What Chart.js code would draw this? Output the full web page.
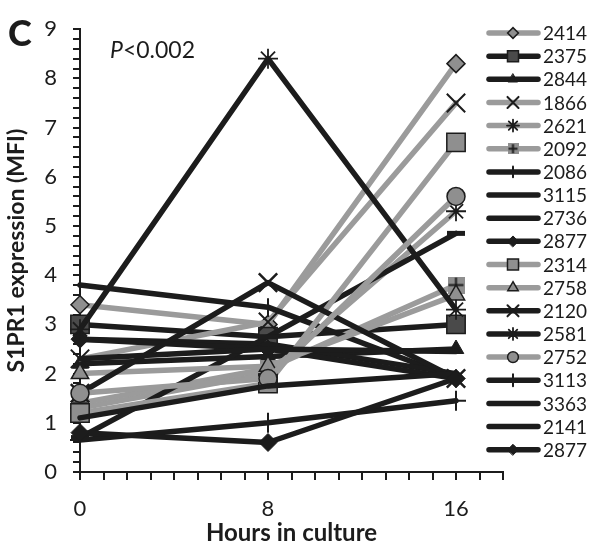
<!DOCTYPE html>
<html>
<head>
<meta charset="utf-8">
<script src="https://cdn.jsdelivr.net/npm/chart.js@4.4.0/dist/chart.umd.min.js"></script>
<style>
    body { margin: 0; background: #fff; }
    #wrap { position: relative; width: 589px; height: 551px; }
</style>
</head>
<body>
<div id="wrap"><canvas id="chart"></canvas></div>
<script>
// hours in culture and the tick labels shown on each axis
const hours = [0, 8, 16];
const xTickLabels = [0, 8, 16];
const yTickLabels = [0, 1, 2, 3, 4, 5, 6, 7, 8, 9];

const sampleIds = ['2414', '2375', '2844', '1866', '2621', '2092', '2086', '3115', '2736', '2877',
    '2314', '2758', '2120', '2581', '2752', '3113', '3363', '2141', '2877'];

// S1PR1 MFI per sample at 0, 8 and 16 h
const s2414 = [3.4, 3.0, 8.3];
const s2375 = [3.0, 2.75, 3.0];
const s2844 = [2.2, 2.35, 2.5];
const s1866 = [2.3, 3.05, 7.5];
const s2621 = [1.3, 2.0, 5.3];
const s2092 = [1.4, 2.1, 3.8];
const s2086 = [3.8, 3.35, 1.9];
const s3115 = [2.7, 2.6, 2.0];
const s2736 = [0.7, 2.75, 4.85];
const s2877a = [2.7, 2.5, 1.9];
const s2314 = [1.2, 1.8, 6.7];
const s2758 = [2.0, 2.15, 3.6];
const s2120 = [1.6, 3.85, 1.9];
const s2581 = [2.9, 8.4, 3.3];
const s2752 = [1.6, 1.9, 5.6];
const s3113 = [0.65, 1.0, 1.45];
const s3363 = [1.1, 1.75, 2.0];
const s2141 = [2.3, 2.5, 2.45];
const s2877b = [0.8, 0.6, 1.9];

const seriesValues = [s2414, s2375, s2844, s1866, s2621, s2092, s2086, s3115, s2736, s2877a,
    s2314, s2758, s2120, s2581, s2752, s3113, s3363, s2141, s2877b];

const BLACK = '#1c1c1c';
const GREY = '#9b9b9b';
const MARK_GREY = '#8f8f8f';
const DARK = '#4a4a4a';

// grey square with a black plus on it
const plusBox = (size) => {
    const c = document.createElement('canvas');
    c.width = size;
    c.height = size;
    const g = c.getContext('2d');
    g.fillStyle = MARK_GREY;
    g.fillRect(0, 0, size, size);
    g.strokeStyle = BLACK;
    g.lineWidth = 2;
    g.beginPath();
    g.moveTo(size / 2, 1); g.lineTo(size / 2, size - 1);
    g.moveTo(1, size / 2); g.lineTo(size - 1, size / 2);
    g.stroke();
    return c;
};

const seriesStyles = [
    { line: GREY, marker: 'rectRot', radius: 9, fill: MARK_GREY, edge: BLACK, edgeWidth: 1.5 },
    { line: BLACK, marker: 'rect', radius: 13, fill: DARK, edge: BLACK, edgeWidth: 1.5 },
    { line: BLACK, marker: 'triangle', radius: 9, fill: BLACK, edge: BLACK, edgeWidth: 1 },
    { line: GREY, marker: 'crossRot', radius: 13, fill: BLACK, edge: BLACK, edgeWidth: 2 },
    { line: GREY, marker: 'star', radius: 10, fill: BLACK, edge: BLACK, edgeWidth: 1.8 },
    { line: GREY, marker: plusBox(17), legendMarker: plusBox(11), radius: 9, fill: MARK_GREY, edge: BLACK, edgeWidth: 1 },
    { line: BLACK, marker: 'line', rotation: 90, radius: 9, fill: BLACK, edge: BLACK, edgeWidth: 2 },
    { line: BLACK, marker: null },
    { line: BLACK, marker: 'line', radius: 9, fill: BLACK, edge: BLACK, edgeWidth: 5 },
    { line: BLACK, marker: 'rectRot', radius: 9, fill: BLACK, edge: BLACK, edgeWidth: 1 },
    { line: GREY, marker: 'rect', radius: 13, fill: MARK_GREY, edge: BLACK, edgeWidth: 1.5 },
    { line: GREY, marker: 'triangle', radius: 10, fill: MARK_GREY, edge: BLACK, edgeWidth: 1.5 },
    { line: BLACK, marker: 'crossRot', radius: 13, fill: BLACK, edge: BLACK, edgeWidth: 2.5 },
    { line: BLACK, marker: 'star', radius: 10, fill: BLACK, edge: BLACK, edgeWidth: 1.8 },
    { line: GREY, marker: 'circle', radius: 9, fill: MARK_GREY, edge: BLACK, edgeWidth: 1.5 },
    { line: BLACK, marker: 'cross', radius: 10, fill: BLACK, edge: BLACK, edgeWidth: 2 },
    { line: BLACK, marker: null },
    { line: BLACK, marker: null },
    { line: BLACK, marker: 'rectRot', radius: 9, fill: BLACK, edge: BLACK, edgeWidth: 1 },
];

const datasets = sampleIds.map((id, i) => {
    const st = seriesStyles[i];
    return {
        label: id,
        data: hours.map((h, j) => ({ x: h, y: seriesValues[i][j] })),
        borderColor: st.line,
        borderWidth: 5.5,
        borderJoinStyle: 'round',
        borderCapStyle: 'round',
        pointStyle: st.marker || 'circle',
        pointRadius: st.marker ? st.radius : 0,
        pointHoverRadius: st.marker ? st.radius : 0,
        pointRotation: st.rotation || 0,
        pointBackgroundColor: st.fill || st.line,
        pointBorderColor: st.edge || st.line,
        pointBorderWidth: st.edgeWidth || 0,
        order: -i,
        clip: false,
    };
});

// legend down the right side, drawn over the plot like the original
const sampleLegend = {
    id: 'sampleLegend',
    afterDraw(chart) {
        const ctx = chart.ctx;
        ctx.save();
        chart.data.datasets.forEach((ds, i) => {
            const st = seriesStyles[i];
            const y = 33 + i * 23.15;
            ctx.strokeStyle = st.line;
            ctx.lineWidth = 5.5;
            ctx.lineCap = 'round';
            ctx.beginPath();
            ctx.moveTo(489, y);
            ctx.lineTo(538, y);
            ctx.stroke();
            if (st.marker && Chart.helpers && Chart.helpers.drawPoint) {
                ctx.fillStyle = st.fill;
                ctx.strokeStyle = st.edge;
                ctx.lineWidth = Math.min(st.edgeWidth, 2);
                Chart.helpers.drawPoint(ctx, {
                    pointStyle: st.legendMarker || st.marker,
                    rotation: st.rotation || 0,
                    radius: st.radius * 0.6,
                    borderWidth: Math.min(st.edgeWidth, st.marker === 'line' && !st.rotation ? 4 : 2),
                }, 513, y);
            }
            ctx.fillStyle = '#1c1c1c';
            ctx.font = '19px Lato';
            ctx.textAlign = 'left';
            ctx.textBaseline = 'middle';
            ctx.fillText(ds.label, 543, y + 1);
        });

        // panel letter and test result
        ctx.fillStyle = '#1c1c1c';
        ctx.textBaseline = 'alphabetic';
        ctx.font = '900 36px Lato';
        ctx.fillText('C', 8, 46);
        ctx.font = 'italic 23px Lato';
        ctx.fillText('P', 110, 58);
        const pw = ctx.measureText('P').width;
        ctx.font = '23px Lato';
        ctx.fillText('<0.002', 110 + pw, 58);
        ctx.restore();
    }
};

Chart.defaults.font.family = 'Lato';
Chart.defaults.color = '#1c1c1c';

new Chart(document.getElementById('chart'), {
    type: 'line',
    data: { datasets },
    plugins: [sampleLegend],
    options: {
        responsive: true,
        maintainAspectRatio: false,
        animation: false,
        layout: { padding: { left: 0, right: 86, top: 22, bottom: 0 } },
        plugins: {
            legend: { display: false },
            tooltip: { enabled: false },
        },
        scales: {
            x: {
                type: 'linear',
                min: 0,
                max: 18,
                afterFit: (scale) => { scale.height = 79; },
                border: { color: BLACK, width: 2 },
                grid: { drawOnChartArea: false, drawTicks: true, tickLength: 8, tickColor: BLACK, lineWidth: 2 },
                ticks: {
                    stepSize: 1,
                    autoSkip: false,
                    maxRotation: 0,
                    padding: 16,
                    font: { size: 22 },
                    callback: (v) => (xTickLabels.includes(v) ? String(v) : ''),
                },
                title: {
                    display: true,
                    text: 'Hours in culture',
                    font: { size: 24, weight: 'bold' },
                    padding: { top: 0, bottom: 3 },
                },
            },
            y: {
                min: 0,
                max: 9,
                afterFit: (scale) => { scale.width = 80; },
                border: { color: BLACK, width: 2 },
                grid: { drawOnChartArea: false, drawTicks: true, tickLength: 7, tickColor: BLACK, lineWidth: 2 },
                ticks: {
                    stepSize: 0.2,
                    autoSkip: false,
                    padding: 16,
                    font: { size: 22 },
                    callback: (v) => {
                        const r = Math.round(v);
                        return Math.abs(v - r) < 1e-6 && yTickLabels.includes(r) ? String(r) : '';
                    },
                },
                title: {
                    display: true,
                    text: 'S1PR1 expression (MFI)',
                    font: { size: 23, weight: 'bold' },
                    padding: { top: 3, bottom: 0 },
                },
            },
        },
    },
});
</script>
</body>
</html>
